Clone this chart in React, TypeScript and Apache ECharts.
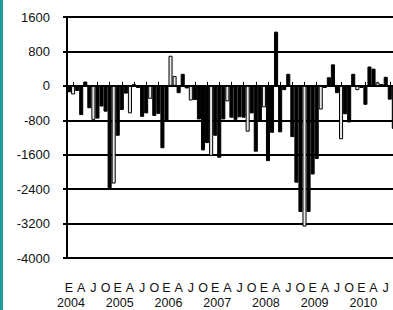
import React, { useEffect, useRef } from "react";
import * as echarts from "echarts";

const years = [2004, 2005, 2006, 2007, 2008, 2009, 2010];
const monthLetters = ["E", "F", "M", "A", "M", "J", "J", "A", "S", "O", "N", "D"];

// Monthly values, Jan 2004 onwards
const values = [
  -150, -200, -120, -680, 100, -520, -790, -760, -480, -600, -2380, -2270,
  -1160, -560, -180, -640, 40, -50, -720, -640, -300, -700, -650, -1450,
  -840, 700, 230, -170, 280, -60, -340, -330, -780, -1500, -1330, -1625,
  -1160, -1670, -780, -360, -740, -790, -730, -740, -1065, -640, -1530, -830,
  -500, -1750, -1090, 1260, -1080, -100, 280, -1190, -2250, -2930, -3270, -2930,
  -2060, -1700, -550, -50, 200, 500, -170, -1240, -660, -850, 280, -100,
  -50, -440, 450, 400, 80, 40, 210, -320, -1000,
];

// indices of bars drawn with a light fill
const lightBars = [1, 6, 11, 15, 20, 25, 26, 30, 35, 39, 44, 48, 58, 62, 67, 71, 76];

const yMin = -4000;
const yMax = 1600;
const yStep = 800;

const categories = values.map(
  (_, i) => `${monthLetters[i % 12]} ${years[Math.floor(i / 12)]}`
);

const FONT = '"Liberation Sans", Arial, sans-serif';

export default function App() {
  const ref = useRef<HTMLDivElement>(null);

  useEffect(() => {
    if (!ref.current) return;
    const chart = echarts.init(ref.current, undefined, { renderer: "svg" });
    const band = 4.06;
    const gridWidth = band * values.length;
    const labelBase = {
      fontSize: 12.5,
      lineHeight: 15,
      fontFamily: FONT,
      color: "#111",
      hideOverlap: false,
    };
    chart.setOption({
      animation: false,
      backgroundColor: "#ffffff",
      graphic: [
        {
          type: "rect",
          left: 0,
          top: 0,
          shape: { width: 3, height: 310 },
          style: { fill: "#239b9b" },
          z: 100,
        },
      ],
      grid: { left: 67, top: 17, width: gridWidth, height: 248, containLabel: false },
      xAxis: [
        {
          type: "category",
          data: categories,
          position: "bottom",
          boundaryGap: true,
          axisLine: { show: true, onZero: false, lineStyle: { color: "#000", width: 2 } },
          axisTick: { show: false },
          splitLine: { show: false },
          axisLabel: {
            ...labelBase,
            interval: 2,
            showMinLabel: true,
            margin: 22,
            formatter: (_v: string, i: number) => monthLetters[i % 12],
          },
        },
        {
          type: "category",
          data: categories,
          position: "top",
          boundaryGap: true,
          axisLine: { show: true, onZero: true, onZeroAxisIndex: 0, lineStyle: { color: "#000", width: 2 } },
          axisTick: {
            show: true,
            alignWithLabel: true,
            inside: false,
            length: 4,
            interval: (i: number) => i % 3 === 1,
            lineStyle: { color: "#000", width: 1 },
          },
          axisLabel: { show: false },
          splitLine: { show: false },
        },
        {
          type: "category",
          data: categories,
          position: "bottom",
          boundaryGap: true,
          axisLine: { show: false, onZero: false },
          axisTick: { show: false },
          splitLine: { show: false },
          axisLabel: {
            ...labelBase,
            interval: 11,
            showMinLabel: true,
            margin: 37,
            padding: [0, 0, 0, 4],
            formatter: (_v: string, i: number) => String(years[Math.floor(i / 12)]),
          },
        },
      ],
      yAxis: {
        type: "value",
        min: yMin,
        max: yMax,
        interval: yStep,
        axisLine: { show: true, lineStyle: { color: "#000", width: 2 } },
        axisTick: { show: true, length: 4, lineStyle: { color: "#000", width: 2 } },
        splitLine: { show: true, lineStyle: { color: "#000", width: 2 } },
        axisLabel: {
          margin: 17,
          fontSize: 13,
          fontFamily: FONT,
          color: "#111",
          formatter: (v: number) => String(v),
        },
      },
      series: [
        {
          type: "bar",
          xAxisIndex: 0,
          barCategoryGap: "0%",
          data: values.map((v, i) => ({
            value: v,
            itemStyle: {
              color: lightBars.includes(i) ? "#e6e6e6" : "#000",
              borderColor: "#000",
              borderWidth: 1,
            },
          })),
        },
      ],
    });
    return () => chart.dispose();
  }, []);

  return (
    <div style={{ position: "fixed", left: 0, top: 0, width: 393, height: 310, overflow: "hidden", background: "#fff" }}>
      <div ref={ref} style={{ width: 410, height: 310 }} />
    </div>
  );
}
